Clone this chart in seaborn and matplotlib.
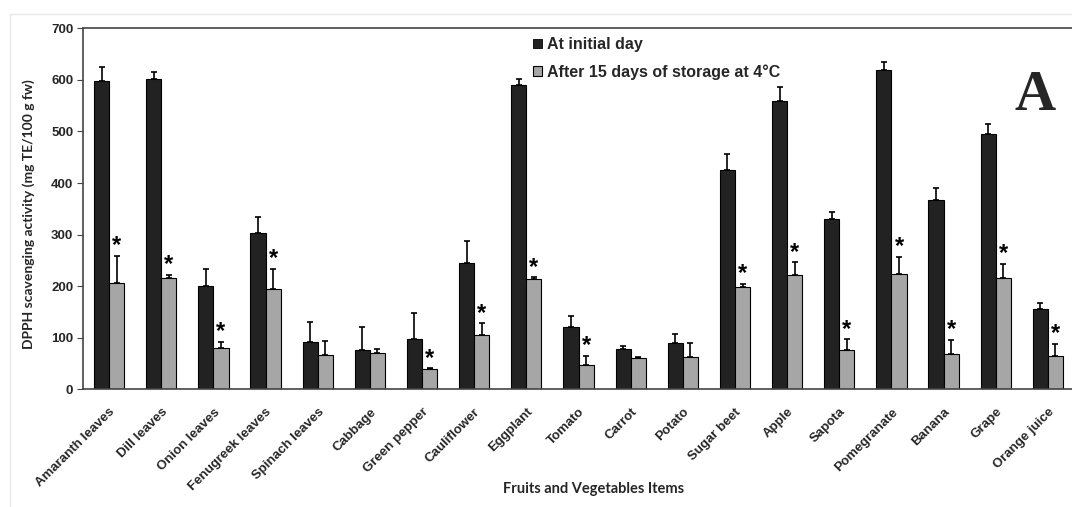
import numpy as np
import pandas as pd
import matplotlib
matplotlib.use("Agg")
import matplotlib.pyplot as plt
from matplotlib.patches import Patch
from matplotlib.lines import Line2D
import seaborn as sns

# ---- data ----
items = ["Amaranth leaves", "Dill leaves", "Onion leaves", "Fenugreek leaves",
         "Spinach leaves", "Cabbage", "Green pepper", "Cauliflower", "Eggplant",
         "Tomato", "Carrot", "Potato", "Sugar beet", "Apple", "Sapota",
         "Pomegranate", "Banana", "Grape", "Orange juice"]
initial = [597, 602, 200, 303, 92, 77, 98, 245, 591, 120, 78, 90, 426, 560, 331, 620, 368, 495, 155]
initial_err = [27, 13, 33, 31, 39, 43, 49, 42, 11, 23, 5, 17, 30, 27, 12, 15, 23, 19, 12]
stored = [207, 215, 81, 194, 66, 70, 39, 105, 213, 47, 61, 63, 198, 221, 77, 223, 68, 215, 64]
stored_err = [52, 7, 11, 40, 27, 9, 2, 23, 4, 18, 2, 26, 6, 25, 20, 34, 28, 28, 24]
significant = [True, True, True, True, False, False, True, True, True, True,
               False, False, True, True, True, True, True, True, True]
series = ["At initial day", "After 15 days of storage at 4°C"]
yticks = [0, 100, 200, 300, 400, 500, 600, 700]

df = pd.DataFrame({
    "item": items * 2,
    "value": initial + stored,
    "series": [series[0]] * len(items) + [series[1]] * len(items),
})

sns.set_theme(style="white")
plt.rcParams["font.family"] = ["Liberation Sans", "DejaVu Sans"]

W, H = 1072, 507
fig = plt.figure(figsize=(W / 100, H / 100), dpi=100)
ax_l, ax_r, ax_b, ax_t = 83, 1074, 389.3, 28.3
ax = fig.add_axes([ax_l / W, 1 - ax_b / H, (ax_r - ax_l) / W, (ax_b - ax_t) / H])

dark, gray = "#222222", "#A6A6A6"
sns.barplot(data=df, x="item", y="value", hue="series", order=items,
            hue_order=series, palette=[dark, gray], width=0.58, gap=0,
            edgecolor="black", linewidth=0.8, errorbar=None, ax=ax,
            legend=False, saturation=1)

errs = [initial_err, stored_err]
for cont, err in zip(ax.containers, errs):
    xs = [b.get_x() + b.get_width() / 2 for b in cont]
    hs = [b.get_height() for b in cont]
    ax.errorbar(xs, hs, yerr=[np.zeros(len(err)), err], fmt="none",
                ecolor="black", elinewidth=1.2, capsize=2.4, capthick=1.2)

gray_cont = ax.containers[1]
for b, e, sig in zip(gray_cont, stored_err, significant):
    if sig:
        ax.text(b.get_x() + b.get_width() / 2, b.get_height() + e + 7, "*",
                ha="center", va="baseline", fontsize=17, fontweight="bold",
                color="black")

ax.set_ylim(0, 700)
ax.set_xlim(-0.5, len(items) - 0.5)
ax.set_yticks(yticks)
ax.set_yticklabels([str(t) for t in yticks], fontsize=9.5, fontweight="bold")
ax.set_xticks(range(len(items)))
ax.set_xticklabels(items, rotation=45, ha="right", rotation_mode="anchor",
                   fontsize=9.5, fontweight="bold")
ax.set_xticks(np.arange(-0.5, len(items), 1), minor=True)
ax.tick_params(axis="x", which="major", length=0, pad=12)
ax.tick_params(axis="x", which="minor", direction="in", length=4, width=0.8, color="#444444")
ax.tick_params(axis="y", which="major", direction="out", length=4, width=0.8,
               color="#444444", pad=3, left=True)

for s in ["left", "bottom", "top"]:
    ax.spines[s].set_visible(True)
    ax.spines[s].set_color("#444444")
    ax.spines[s].set_linewidth(1.2)
ax.spines["right"].set_visible(False)

ax.set_xlabel("Fruits and Vegetables Items", fontsize=10.5, fontweight="bold",
              family=["Lato", "DejaVu Sans"])
ax.set_ylabel("DPPH scavenging activity (mg TE/100 g fw)", fontsize=10,
              fontweight="bold", family=["Lato", "DejaVu Sans"])
ax.xaxis.set_label_coords((594 - ax_l) / (ax_r - ax_l), (ax_b - 482) / (ax_b - ax_t))
ax.yaxis.set_label_coords((35 - ax_l) / (ax_r - ax_l), (ax_b - 214.5) / (ax_b - ax_t))

handles = [Patch(facecolor=dark, edgecolor="black", linewidth=0.6),
           Patch(facecolor=gray, edgecolor="black", linewidth=0.8)]
fig.legend(handles, series, loc="upper left",
           bbox_to_anchor=(533 / W, 1 - 37 / H), frameon=False,
           prop={"family": ["Liberation Sans", "DejaVu Sans"], "weight": "bold", "size": 11.5},
           handlelength=0.55, handleheight=0.55, handletextpad=0.3,
           labelspacing=0.75, borderpad=0, borderaxespad=0)

ax.text((1035 - ax_l) / (ax_r - ax_l), (ax_b - 110) / (ax_b - ax_t), "A",
        transform=ax.transAxes, ha="center", va="baseline", fontsize=41,
        fontweight="bold", family=["Liberation Serif", "DejaVu Serif"])

# faint outer frame of the figure panel
fig.add_artist(Line2D([10 / W, 1], [1 - 14 / H, 1 - 14 / H], color="#e8e8e8",
                      lw=1, transform=fig.transFigure))
fig.add_artist(Line2D([10 / W, 10 / W], [0, 1 - 14 / H], color="#e8e8e8",
                      lw=1, transform=fig.transFigure))

fig.savefig("out.png", dpi=100)
